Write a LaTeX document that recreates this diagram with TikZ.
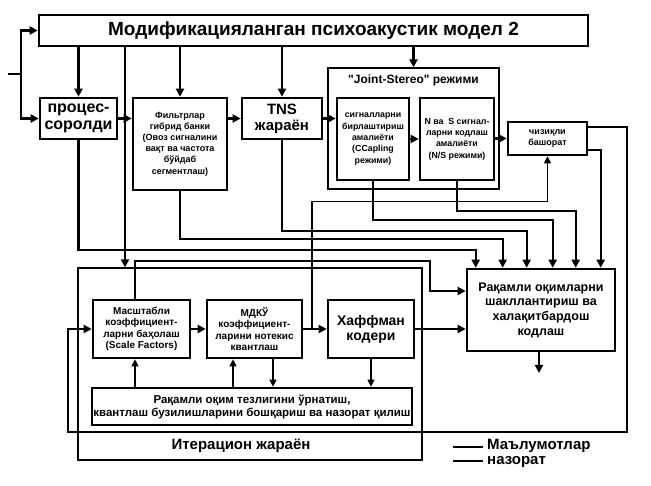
\documentclass[tikz,border=0pt]{standalone}
\usepackage{fontspec}
\setmainfont{Liberation Sans}[Ligatures=TeXOff]
\usetikzlibrary{arrows.meta,calc}
\newcommand{\fs}[2]{\fontsize{#1}{#2}\selectfont}
\begin{document}
\begin{tikzpicture}[x=1pt,y=-1pt,
  box/.style={draw,line width=2.6pt,inner sep=0pt,align=center,font=\bfseries},
  frame/.style={draw,line width=1.3pt,inner sep=0pt},
  arr/.style={line width=2.3pt,-{Triangle[length=8pt,width=8pt]}},
  dat/.style={line width=2.3pt},
  tarr/.style={line width=1.1pt,-{Triangle[length=7pt,width=7pt]}},
  thin/.style={line width=1.1pt}]
\useasboundingbox (0,0) rectangle (651,486);
% outer frames
\node[frame,minimum width=171pt,minimum height=121pt] (js) at (413.5,128.5) {};
\node[frame,minimum width=344pt,minimum height=192pt] (iter) at (250,364) {};
\node[font=\bfseries\fs{12}{14}] (jslabel) at (413.5,80) {"Joint-Stereo" режими};
\node[font=\bfseries\fs{15}{17}] (iterlabel) at (241,446) {Итерацион жараён};
% boxes
\node[box,minimum width=549pt,minimum height=31pt,font=\bfseries\fs{19}{21}] (top) at (313.5,30.5) {Модификацияланган психоакустик модел 2};
\node[box,minimum width=77pt,minimum height=41pt,font=\bfseries\fs{16}{17}] (proc) at (78.5,118.5) {процес-\\соролди};
\node[box,minimum width=94pt,minimum height=92pt,font=\bfseries\fs{9}{11.2}] (filt) at (180,144) {Фильтрлар\\гибрид банки\\(Овоз сигналини\\вақт ва частота\\бўйдаб\\сегментлаш)};
\node[box,minimum width=80pt,minimum height=41pt,font=\bfseries\fs{15}{16}] (tns) at (282,118.5) {TNS\\жараён};
\node[box,minimum width=72pt,minimum height=82pt,font=\bfseries\fs{8.8}{11.3}] (sig) at (373,139) {сигналларни\\бирлаштириш\\амалиёти\\(CCapling\\режими)};
\node[box,minimum width=74pt,minimum height=82pt,font=\bfseries\fs{8.8}{11.3}] (ns) at (457,139) {N ва\ \ S сигнал-\\ларни кодлаш\\амалиёти\\(N/S режими)};
\node[box,minimum width=79pt,minimum height=33pt,font=\bfseries\fs{9}{11.3}] (lin) at (547.5,138.5) {чизиқли\\башорат};
\node[box,minimum width=148pt,minimum height=82pt,font=\bfseries\fs{12.5}{14.7}] (big) at (541,310) {Рақамли оқимларни\\шакллантириш ва\\халақитбардош\\кодлаш};
\node[box,minimum width=97pt,minimum height=58pt,font=\bfseries\fs{10}{11.5}] (msh) at (141.5,329) {Масштабли\\коэффициент-\\ларни баҳолаш\\(Scale Factors)};
\node[box,minimum width=95pt,minimum height=58pt,font=\bfseries\fs{10}{11.5}] (mdk) at (254.5,329) {МДКЎ\\коэффициент-\\ларини нотекис\\квантлаш};
\node[box,minimum width=86pt,minimum height=58pt,font=\bfseries\fs{14}{15}] (huf) at (371,329) {Хаффман\\кодери};
\node[box,minimum width=320pt,minimum height=37pt,font=\bfseries\fs{11.5}{13}] (ctrl) at (252,406.5) {Рақамли оқим тезлигини ўрнатиш,\\квантлаш бузилишларини бошқариш ва назорат қилиш};
% helper coordinates
\coordinate (in) at (8,74);
\coordinate (split) at (21,74);
\coordinate (x125) at (125,0);
\coordinate (xa) at (135,0);
\coordinate (xb) at (233,0);
\coordinate (xc) at (273,0);
\coordinate (tap) at (312,329);
\coordinate (out) at (539,373);
% input
\draw[dat] (in) -- (split);
\draw[arr] (split) |- (top.west);
\draw[arr] (split) |- (proc.west);
% from model
\draw[arr] (top.south -| proc) -- (proc.north);
\draw[arr] (top.south -| filt) -- (filt.north);
\draw[arr] (top.south -| tns) -- (tns.north);
\draw[arr] (top.south -| js) -- (js.north);
\draw[arr] (top.south -| x125) -- (iter.north -| x125);
% chain
\draw[arr] (proc.east) -- (filt.west |- proc.east);
\draw[arr] (filt.east |- tns.west) -- (tns.west);
\draw[arr] (tns.east) -- (sig.west |- tns.east);
\draw[arr] (sig.east) -- (ns.west);
\draw[arr] (ns.east |- lin.west) -- (lin.west);
% to big box top
\draw[arr] (proc.south) -- ++(0,110) -| ([xshift=10pt]big.north west);
\draw[arr] (filt.south) -- ++(0,48) -| ([xshift=37pt]big.north west);
\draw[arr] (tns.south) -- ++(0,91) -| ([xshift=61pt]big.north west);
\draw[arr] (sig.south) -- ++(0,39) -| ([xshift=87pt]big.north west);
\draw[arr] (ns.south) -- ++(0,30) -| ([xshift=110pt]big.north west);
\draw[arr] ([yshift=-11.5pt]lin.east) -| ([xshift=135pt]big.north west);
% feedback loop
\draw[arr] ([yshift=11.5pt]lin.east) -| (627,432) -| (68,329) -- (msh.west);
% scale factors to big box
\draw[arr] (msh.north -| xa) |- (430,261) |- ([yshift=19pt]big.west);
% iteration chain
\draw[arr] (msh.east) -- (mdk.west);
\draw[arr] (mdk.east) -- (huf.west);
\draw[arr] (huf.east) -- (big.west |- huf.east);
\draw[arr] ([xshift=-2pt]big.south) -- (out);
% control lines
\draw[tarr] (tap) |- ([yshift=-45pt]lin.south) -- (lin.south);
\draw[tarr] (ctrl.north -| xa) -- (msh.south -| xa);
\draw[tarr] (ctrl.north -| xb) -- (mdk.south -| xb);
\draw[tarr] (mdk.south -| xc) -- (ctrl.north -| xc);
\draw[tarr] (huf.south) -- (ctrl.north -| huf.south);
% legend
\coordinate (l1a) at (453,447);
\coordinate (l1b) at (483,447);
\coordinate (l2a) at (453,461);
\coordinate (l2b) at (483,461);
\draw[dat] (l1a) -- (l1b);
\draw[thin] (l2a) -- (l2b);
\node[anchor=west,inner sep=0pt,font=\bfseries\fs{15}{17}] (leg1) at (487,446) {Маълумотлар};
\node[anchor=west,inner sep=0pt,font=\bfseries\fs{15}{17}] (leg2) at (487,462) {назорат};
\end{tikzpicture}
\end{document}
